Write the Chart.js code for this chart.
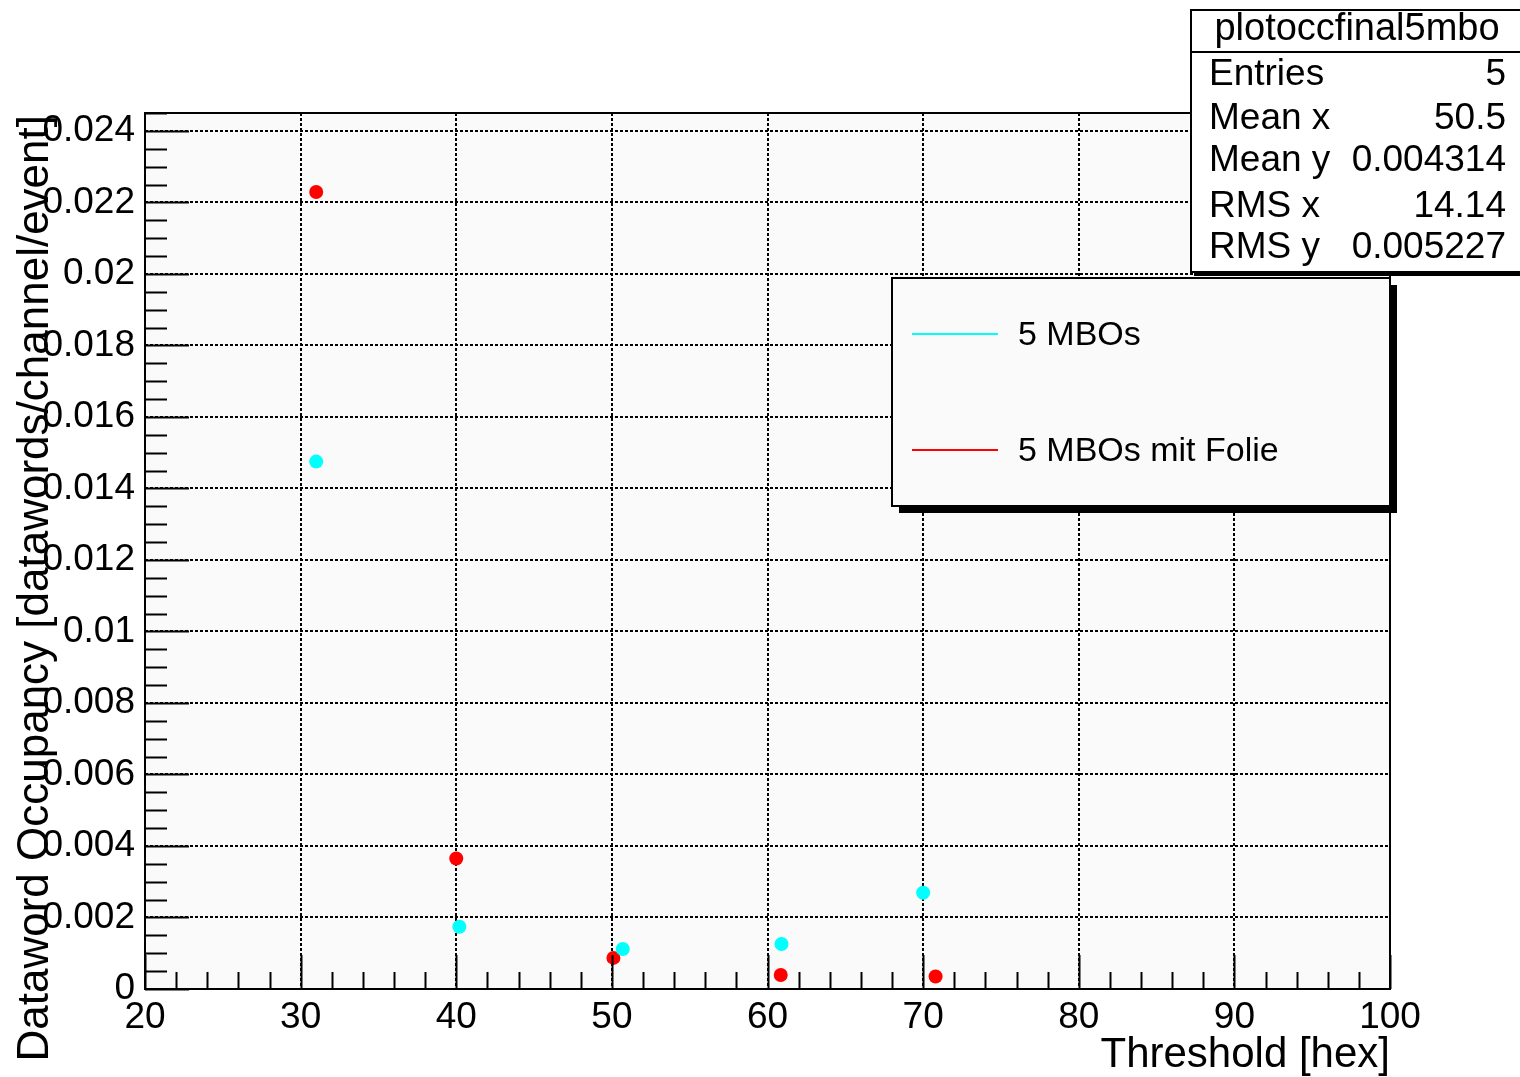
<!DOCTYPE html>
<html>
<head>
<meta charset="utf-8">
<script src="https://cdn.jsdelivr.net/npm/chart.js@4/dist/chart.umd.min.js"></script>
<style>
  body { margin: 0; background: #fff; }
  canvas { display: block; }
</style>
</head>
<body>
<canvas id="occChart" width="1520" height="1077"></canvas>
<script>
// values
const cyanX = [31, 40.2, 50.7, 60.9, 70];
const cyanY = [0.01475, 0.00174, 0.00112, 0.00126, 0.00269];
const redX = [31, 40, 50.1, 60.85, 70.8];
const redY = [0.02229, 0.00365, 0.00087, 0.00039, 0.00035];

const seriesLabels = ['5 MBOs', '5 MBOs mit Folie'];
const xTickLabels = ['20', '30', '40', '50', '60', '70', '80', '90', '100'];
const yTickLabels = ['0', '0.002', '0.004', '0.006', '0.008', '0.01', '0.012',
    '0.014', '0.016', '0.018', '0.02', '0.022', '0.024'];

const statsTitle = 'plotoccfinal5mbo';
const statsNames = ['Entries', 'Mean x', 'Mean y', 'RMS x', 'RMS y'];
const statsValues = ['5', '50.5', '0.004314', '14.14', '0.005227'];

const FONT = '"Liberation Sans", Arial, sans-serif';

function toPoints(xs, ys) {
    return xs.map((x, i) => ({ x: x, y: ys[i] }));
}

// ROOT style: ticks inside the frame, frame, axis titles, stats box, legend
const rootDecor = {
    id: 'rootDecor',
    beforeDraw(chart) {
        const ctx = chart.ctx;
        const a = chart.chartArea;
        ctx.save();
        ctx.fillStyle = '#ffffff';
        ctx.fillRect(0, 0, chart.width, chart.height);
        ctx.fillStyle = '#fafafa';
        ctx.fillRect(a.left, a.top, a.right - a.left, a.bottom - a.top);
        ctx.restore();
    },
    afterDatasetsDraw(chart) {
        const ctx = chart.ctx;
        const a = chart.chartArea;
        const xs = chart.scales.x;
        const ys = chart.scales.y;
        ctx.save();
        ctx.strokeStyle = '#000';
        ctx.lineWidth = 2;
        ctx.setLineDash([]);

        // y ticks: major every 0.002, minor every 0.0005
        for (let i = 0; i <= 49; i++) {
            const v = i * 0.0005;
            const py = Math.round(ys.getPixelForValue(v)) + 0.5;
            const len = (i % 4 === 0) ? 44 : 22;
            ctx.beginPath();
            ctx.moveTo(a.left, py);
            ctx.lineTo(a.left + len, py);
            ctx.stroke();
        }
        // x ticks: major every 10, minor every 2
        for (let i = 0; i <= 40; i++) {
            const v = 20 + i * 2;
            const px = Math.round(xs.getPixelForValue(v)) + 0.5;
            const len = (i % 5 === 0) ? 34 : 17;
            ctx.beginPath();
            ctx.moveTo(px, a.bottom);
            ctx.lineTo(px, a.bottom - len);
            ctx.stroke();
        }
        // frame
        ctx.lineWidth = 2;
        ctx.strokeRect(a.left, a.top, a.right - a.left, a.bottom - a.top);
        ctx.restore();
    },
    afterDraw(chart) {
        const ctx = chart.ctx;
        const a = chart.chartArea;
        ctx.save();
        ctx.fillStyle = '#000';

        // axis titles
        ctx.font = '42px ' + FONT;
        ctx.textAlign = 'right';
        ctx.textBaseline = 'middle';
        ctx.fillText('Threshold [hex]', a.right, 1055);

        ctx.save();
        ctx.translate(36, a.top + 2);
        ctx.rotate(-Math.PI / 2);
        ctx.font = '44px ' + FONT;
        ctx.textAlign = 'right';
        ctx.textBaseline = 'middle';
        ctx.fillText('Dataword Occupancy [datawords/channel/event]', 0, 0);
        ctx.restore();

        // stats box
        const sx = 1191, sy = 10, sw = 340, sh = 262;
        ctx.fillStyle = '#000';
        ctx.fillRect(sx + 3, sy + 4, sw, sh);
        ctx.fillStyle = '#ffffff';
        ctx.fillRect(sx, sy, sw, sh);
        ctx.strokeStyle = '#000';
        ctx.lineWidth = 2;
        ctx.strokeRect(sx, sy, sw, sh);
        ctx.beginPath();
        ctx.moveTo(sx, 52);
        ctx.lineTo(sx + sw, 52);
        ctx.stroke();
        ctx.fillStyle = '#000';
        ctx.font = '38px ' + FONT;
        ctx.textAlign = 'center';
        ctx.textBaseline = 'middle';
        ctx.fillText(statsTitle, 1357, 30);
        const rowY = [75, 119, 161, 207, 248];
        ctx.font = '37px ' + FONT;
        statsNames.forEach((name, i) => {
            ctx.textAlign = 'left';
            ctx.fillText(name, 1209, rowY[i]);
            ctx.textAlign = 'right';
            ctx.fillText(statsValues[i], 1506, rowY[i]);
        });

        // legend box with shadow
        const lx = 892, ly = 278, lw = 498, lh = 228;
        ctx.fillStyle = '#000';
        ctx.fillRect(lx + 7, ly + 7, lw, lh);
        ctx.fillStyle = '#fafafa';
        ctx.fillRect(lx, ly, lw, lh);
        ctx.lineWidth = 2;
        ctx.strokeRect(lx, ly, lw, lh);
        const entryY = [334, 450];
        ctx.font = '34px ' + FONT;
        ctx.textAlign = 'left';
        ctx.textBaseline = 'middle';
        chart.data.datasets.forEach((ds, i) => {
            ctx.strokeStyle = ds.backgroundColor;
            ctx.lineWidth = 2;
            ctx.beginPath();
            ctx.moveTo(912, entryY[i]);
            ctx.lineTo(998, entryY[i]);
            ctx.stroke();
            ctx.fillStyle = '#000';
            ctx.fillText(ds.label, 1018, entryY[i] + 2);
        });
        ctx.restore();
    }
};

const ctxOcc = document.getElementById('occChart').getContext('2d');
const occChart = new Chart(ctxOcc, {
    type: 'scatter',
    data: {
        datasets: [{
            label: seriesLabels[0],
            data: toPoints(cyanX, cyanY),
            backgroundColor: '#00ffff',
            borderWidth: 0,
            pointRadius: 7
        }, {
            label: seriesLabels[1],
            data: toPoints(redX, redY),
            backgroundColor: '#ff0000',
            borderWidth: 0,
            pointRadius: 7
        }]
    },
    options: {
        responsive: false,
        devicePixelRatio: 1,
        animation: false,
        layout: { padding: { top: 113, right: 130, left: 0, bottom: 0 } },
        plugins: {
            legend: { display: false },
            tooltip: { enabled: false }
        },
        scales: {
            x: {
                type: 'linear',
                min: 20,
                max: 100,
                afterFit: s => { s.height = 88; },
                ticks: {
                    stepSize: 10,
                    color: '#000',
                    font: { family: FONT, size: 37 },
                    padding: 7,
                    maxRotation: 0,
                    callback: (v) => xTickLabels[Math.round((v - 20) / 10)]
                },
                grid: { color: '#000', lineWidth: 2, drawTicks: false },
                border: { display: false, dash: [3, 2] }
            },
            y: {
                type: 'linear',
                min: 0,
                max: 0.0245,
                afterFit: s => { s.width = 145; },
                ticks: {
                    stepSize: 0.002,
                    includeBounds: false,
                    color: '#000',
                    font: { family: FONT, size: 37 },
                    padding: 10,
                    callback: (v) => yTickLabels[Math.round(v / 0.002)]
                },
                grid: { color: '#000', lineWidth: 2, drawTicks: false },
                border: { display: false, dash: [3, 2] }
            }
        }
    },
    plugins: [rootDecor]
});
</script>
</body>
</html>
